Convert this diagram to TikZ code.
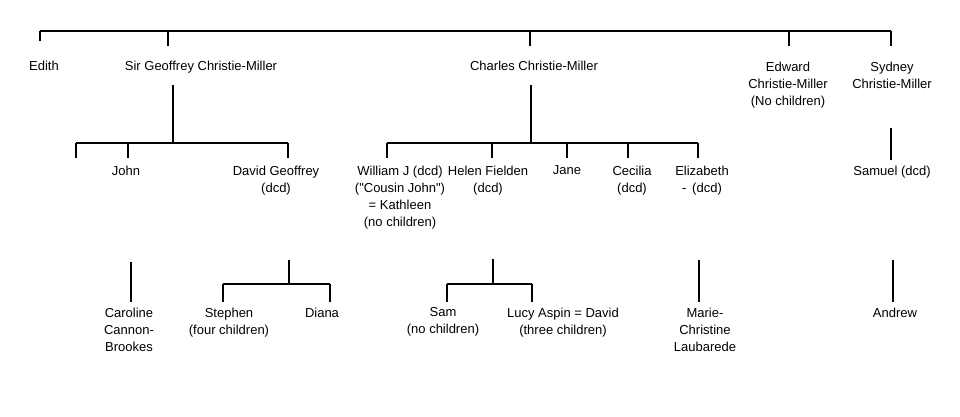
\documentclass[tikz,border=0pt]{standalone}
\usepackage{fontspec}
\setmainfont{Liberation Sans}
\newfontfamily\plainfont{Liberation Sans}
\begin{document}
\begin{tikzpicture}[x=1pt,y=-1pt,line width=1.2pt]
  \tikzstyle{person}=[anchor=north,align=center,inner sep=0pt,font=\plainfont\fontsize{13}{17}\selectfont]
  \useasboundingbox (0,0) rectangle (960,417);

  \node[person] (E)  at (44,60)  {Edith};
  \node[person] (G)  at (201,60) {Sir Geoffrey Christie-Miller};
  \node[person] (C)  at (534,60) {Charles Christie-Miller};
  \node[person] (Ed) at (788,61) {Edward\\Christie-Miller\\(No children)};
  \node[person] (S)  at (892,61) {Sydney\\Christie-Miller};

  \node[person] (G1) at (126,165) {John};
  \node[person] (G2) at (276,165) {David Geoffrey\\(dcd)};
  \node[person] (C1) at (400,165) {William J (dcd)\\("Cousin John")\\= Kathleen\\(no children)};
  \node[person] (C2) at (488,165) {Helen Fielden\\(dcd)};
  \node[person] (C3) at (567,165) {Jane};
  \node[person] (C4) at (632,165) {Cecilia\\(dcd)};
  \node[person] (C5) at (702,165) {Elizabeth\\- \,(dcd)};
  \node[person] (S1) at (892,165) {Samuel (dcd)};

  \node[person] (J1) at (129,307) {Caroline\\Cannon-\\Brookes};
  \node[person] (D1) at (229,307) {Stephen\\(four children)};
  \node[person] (D2) at (322,307) {Diana};
  \node[person] (H1) at (443,307) {Sam\\(no children)};
  \node[person] (H2) at (563,307) {Lucy Aspin = David\\(three children)};
  \node[person] (Z1) at (705,307) {Marie-\\Christine\\Laubarede};
  \node[person] (M1) at (895,307) {Andrew};

  \coordinate (lvl1) at (0,46);
  \coordinate (lvl2) at (0,158);
  \coordinate (lvl3) at (0,302);

  \coordinate (bE)  at (40,31);
  \coordinate (bG)  at (168,31);
  \coordinate (bC)  at (530,31);
  \coordinate (bEd) at (789,31);
  \coordinate (bS)  at (891,31);
  \coordinate (bEt) at (40,41);
  \draw (bE) -- (bS);
  \draw (bE) -- (bEt);
  \foreach \c in {bG,bC,bEd,bS}
    \draw (\c) -- (\c |- lvl1);

  \coordinate (gT) at (173,85);
  \coordinate (gB) at (173,143);
  \coordinate (g0) at (76,143);
  \coordinate (g1) at (128,143);
  \coordinate (g2) at (288,143);
  \draw (gT) -- (gB);
  \draw (g0) -- (g2);
  \foreach \c in {g0,g1,g2}
    \draw (\c) -- (\c |- lvl2);

  \coordinate (cT) at (531,85);
  \coordinate (cB) at (531,143);
  \coordinate (c1) at (387,143);
  \coordinate (c2) at (492,143);
  \coordinate (c3) at (567,143);
  \coordinate (c4) at (628,143);
  \coordinate (c5) at (698,143);
  \draw (cT) -- (cB);
  \draw (c1) -- (c5);
  \foreach \c in {c1,c2,c3,c4,c5}
    \draw (\c) -- (\c |- lvl2);

  \coordinate (sT) at (891,128);
  \coordinate (sB) at (891,160);
  \draw (sT) -- (sB);

  \coordinate (jT) at (131,262);
  \draw (jT) -- (jT |- lvl3);

  \coordinate (dT) at (289,260);
  \coordinate (dB) at (289,284);
  \coordinate (d1) at (223,284);
  \coordinate (d2) at (330,284);
  \draw (dT) -- (dB);
  \draw (d1) -- (d2);
  \foreach \c in {d1,d2}
    \draw (\c) -- (\c |- lvl3);

  \coordinate (hT) at (493,259);
  \coordinate (hB) at (493,284);
  \coordinate (h1) at (447,284);
  \coordinate (h2) at (532,284);
  \draw (hT) -- (hB);
  \draw (h1) -- (h2);
  \foreach \c in {h1,h2}
    \draw (\c) -- (\c |- lvl3);

  \coordinate (zT) at (699,260);
  \draw (zT) -- (zT |- lvl3);

  \coordinate (mT) at (893,260);
  \draw (mT) -- (mT |- lvl3);
\end{tikzpicture}
\end{document}
